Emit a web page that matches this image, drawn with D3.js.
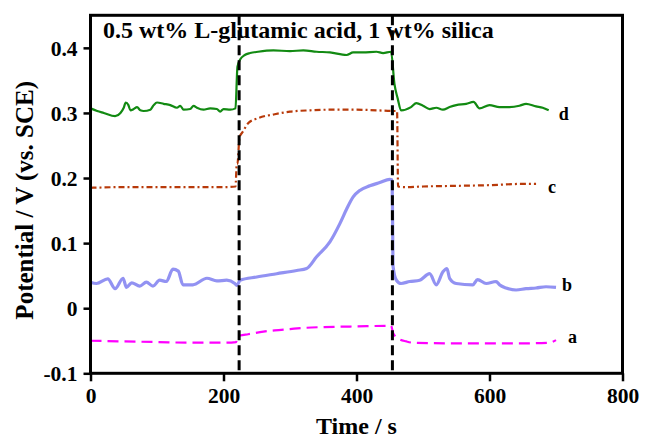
<!DOCTYPE html>
<html>
<head>
<meta charset="utf-8">
<script src="https://cdn.jsdelivr.net/npm/d3@7"></script>
<style>
  html, body { margin: 0; padding: 0; background: #fff; }
  text { font-family: "Liberation Serif", "Times New Roman", serif; font-weight: bold; }
</style>
</head>
<body>
<div id="chart"></div>
<script>
// time (s) / potential (V)
const timeA = [0, 50, 100, 150, 200, 219, 221, 225, 237, 260, 277, 300, 325, 350, 400, 452, 455, 462, 475, 485, 550, 600, 650, 690, 700];
const potA  = [-0.050, -0.051, -0.052, -0.053, -0.053, -0.052, -0.044, -0.042, -0.040, -0.036, -0.034, -0.032, -0.030, -0.029, -0.028, -0.027, -0.038, -0.046, -0.051, -0.053, -0.054, -0.054, -0.054, -0.053, -0.049];

const timeB = [0, 9, 26, 37, 49, 54, 62, 74, 84, 94, 104, 114, 124, 132, 139, 154, 175, 190, 205, 217, 220, 225,
  250, 280, 310, 325, 340, 360, 375, 385, 395, 405, 420, 435, 450, 453.5, 454, 455, 460, 467, 480, 495, 510, 520, 530, 536, 540, 550,
  575, 582, 595, 610, 615, 625, 640, 655, 670, 685, 700];
const potB  = [0.040, 0.038, 0.045, 0.030, 0.046, 0.032, 0.039, 0.034, 0.040, 0.034, 0.043, 0.041, 0.060, 0.057, 0.036, 0.036, 0.046, 0.042, 0.043, 0.038, 0.035, 0.043,
  0.048, 0.053, 0.058, 0.061, 0.079, 0.102, 0.130, 0.152, 0.171, 0.181, 0.188, 0.193, 0.198, 0.197, 0.161, 0.064, 0.043, 0.038, 0.041, 0.043, 0.053, 0.036, 0.056, 0.061, 0.046, 0.038,
  0.036, 0.044, 0.038, 0.041, 0.036, 0.031, 0.028, 0.030, 0.031, 0.033, 0.032];

const timeC = [0, 50, 100, 150, 200, 218, 220, 221, 224, 229, 237, 252, 277, 300, 330, 360, 400, 430, 455, 461, 462.5, 475, 500, 550, 600, 650, 670];
const potC  = [0.185, 0.186, 0.186, 0.186, 0.186, 0.187, 0.222, 0.222, 0.262, 0.271, 0.284, 0.292, 0.298, 0.302, 0.304, 0.305, 0.305, 0.304, 0.303, 0.303, 0.187, 0.186, 0.187, 0.188, 0.189, 0.191, 0.191];

const timeD = [0, 10, 20, 37, 45, 50, 53, 57, 60, 65, 70, 75, 80, 90, 95, 100, 110, 120, 130, 135, 140, 150, 155, 160, 170, 180, 190, 195, 200, 210, 218,
  221, 225, 232, 240, 252, 275, 300, 320, 340, 360, 385, 395, 410, 430, 440, 452,
  457, 462, 467, 482, 490, 500, 510, 520, 530, 540, 550, 565, 576, 585, 600, 615, 630, 645, 655, 670, 680, 689];
const potD  = [0.307, 0.303, 0.300, 0.295, 0.300, 0.308, 0.316, 0.312, 0.304, 0.306, 0.309, 0.304, 0.303, 0.305, 0.312, 0.316, 0.314, 0.312, 0.308, 0.311, 0.305, 0.306, 0.311, 0.308, 0.305, 0.307, 0.306, 0.302, 0.306, 0.305, 0.307,
  0.371, 0.382, 0.389, 0.392, 0.394, 0.396, 0.395, 0.396, 0.394, 0.393, 0.389, 0.393, 0.393, 0.394, 0.392, 0.394,
  0.345, 0.322, 0.304, 0.309, 0.315, 0.311, 0.306, 0.308, 0.305, 0.309, 0.312, 0.314, 0.317, 0.307, 0.312, 0.309, 0.309, 0.311, 0.314, 0.310, 0.308, 0.304];

const seriesNames = ["a", "b", "c", "d"];
const eventTimes = [223.5, 454];

const xTicks = [0, 200, 400, 600, 800];
const xTickLabels = ["0", "200", "400", "600", "800"];
const yTicks = [-0.1, 0, 0.1, 0.2, 0.3, 0.4];
const yTickLabels = ["-0.1", "0", "0.1", "0.2", "0.3", "0.4"];

const title = "0.5 wt% L-glutamic acid, 1 wt% silica";
const xTitle = "Time / s";
const yTitle = "Potential / V (vs. SCE)";

// build the series table
const series = [
  { name: seriesNames[0], pts: timeA.map((t, i) => [t, potA[i]]), color: "#ff00ff", width: 2.2, dash: "11,6", opacity: 1, lx: 12, ly: 3 },
  { name: seriesNames[1], pts: timeB.map((t, i) => [t, potB[i]]), color: "#7f7ff0", width: 3.2, dash: null, opacity: 0.85, lx: 6, ly: 4 },
  { name: seriesNames[2], pts: timeC.map((t, i) => [t, potC[i]]), color: "#b83a0a", width: 2.2, dash: "6,3,2,3", opacity: 1, lx: 12, ly: 9 },
  { name: seriesNames[3], pts: timeD.map((t, i) => [t, potD[i]]), color: "#128a12", width: 2.2, dash: null, opacity: 1, lx: 10, ly: 10 }
];

const width = 646, height = 442;
const plotLeft = 90.5, plotRight = 622.5, plotTop = 15.3, plotBottom = 373.3;

const svg = d3.select('#chart').append('svg')
  .attr('width', width)
  .attr('height', height);

const x = d3.scaleLinear().domain([0, 800]).range([plotLeft, plotRight]);
const y = d3.scaleLinear().domain([-0.1, 0.45]).range([plotBottom, plotTop]);

// axes (ticks outside the frame)
const xAxis = svg.append('g')
  .attr('transform', `translate(0,${plotBottom})`)
  .call(d3.axisBottom(x).tickValues(xTicks).tickFormat((d, i) => xTickLabels[i]).tickSize(8).tickSizeOuter(0).tickPadding(6));
const yAxis = svg.append('g')
  .attr('transform', `translate(${plotLeft},0)`)
  .call(d3.axisLeft(y).tickValues(yTicks).tickFormat((d, i) => yTickLabels[i]).tickSize(7).tickSizeOuter(0).tickPadding(6));

[xAxis, yAxis].forEach(g => {
  g.select('.domain').remove();
  g.selectAll('line').attr('stroke', '#000').attr('stroke-width', 2.5);
  g.selectAll('text')
    .attr('fill', '#000')
    .style('font-size', '21.5px')
    .style('font-family', '"Liberation Serif", "Times New Roman", serif')
    .style('font-weight', 'bold');
});
yAxis.selectAll('text').attr('dy', '0.35em');

// data lines
const line = d3.line()
  .x(d => x(d[0]))
  .y(d => y(d[1]))
  .curve(d3.curveMonotoneX);

svg.selectAll('path.series')
  .data(series)
  .enter()
  .append('path')
  .attr('class', 'series')
  .attr('d', d => line(d.pts))
  .attr('fill', 'none')
  .attr('stroke', d => d.color)
  .attr('stroke-width', d => d.width)
  .attr('stroke-opacity', d => d.opacity)
  .attr('stroke-dasharray', d => d.dash)
  .attr('stroke-linejoin', 'round');

// series labels next to line ends
svg.selectAll('text.lbl')
  .data(series)
  .enter()
  .append('text')
  .attr('class', 'lbl')
  .attr('x', d => x(d.pts[d.pts.length - 1][0]) + d.lx)
  .attr('y', d => y(d.pts[d.pts.length - 1][1]) + d.ly)
  .style('font-size', '18px')
  .text(d => d.name);

// event markers
svg.selectAll('line.event')
  .data(eventTimes)
  .enter()
  .append('line')
  .attr('class', 'event')
  .attr('x1', d => x(d)).attr('x2', d => x(d))
  .attr('y1', plotTop).attr('y2', plotBottom)
  .attr('stroke', '#000')
  .attr('stroke-width', 3)
  .attr('stroke-dasharray', '10,5');

// frame
svg.append('rect')
  .attr('x', plotLeft).attr('y', plotTop)
  .attr('width', plotRight - plotLeft).attr('height', plotBottom - plotTop)
  .attr('fill', 'none')
  .attr('stroke', '#000')
  .attr('stroke-width', 3);

svg.append('text')
  .attr('x', 103).attr('y', 38)
  .style('font-size', '24px')
  .text(title);

svg.append('text')
  .attr('x', (plotLeft + plotRight) / 2).attr('y', 434)
  .attr('text-anchor', 'middle')
  .style('font-size', '24px')
  .text(xTitle);

svg.append('text')
  .attr('transform', `translate(33,${(plotTop + plotBottom) / 2 + 6}) rotate(-90)`)
  .attr('text-anchor', 'middle')
  .style('font-size', '25px')
  .text(yTitle);
</script>
</body>
</html>
